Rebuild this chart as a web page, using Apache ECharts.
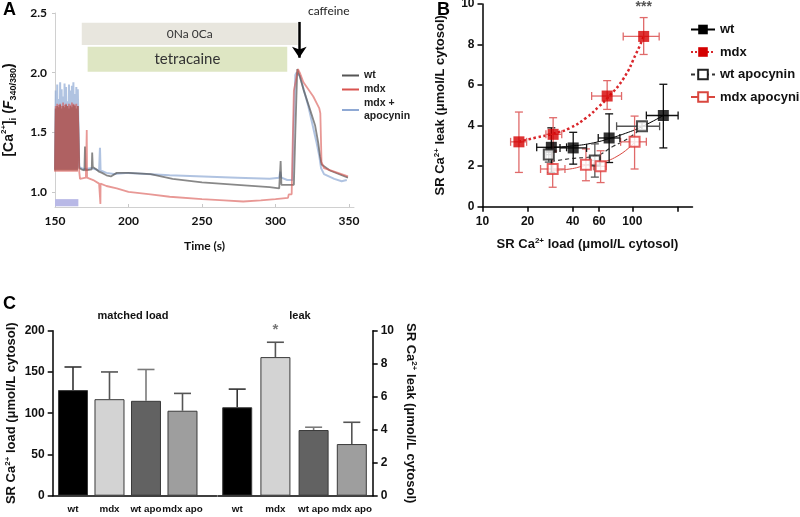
<!DOCTYPE html>
<html>
<head>
<meta charset="utf-8">
<script src="https://cdn.jsdelivr.net/npm/echarts@6/dist/echarts.min.js"></script>
<style>
  html, body { margin: 0; padding: 0; background: #fff; }
  #main { width: 800px; height: 517px; }
</style>
</head>
<body>
<div id="main"></div>
<script>
// ---------- A: Ca transients (time in s, ratio F340/380) ----------
// pacing at the start: one spike per second
var pacedTimes = [150, 151, 152, 153, 154, 155, 156, 157, 158, 159, 160, 161, 162, 163, 164, 165]
var wtPeaks = [1.70, 1.72, 1.71, 1.73, 1.70, 1.72, 1.71, 1.73, 1.72, 1.70, 1.72, 1.71, 1.73, 1.72, 1.70, 1.72]
var mdxPeaks = [1.72, 1.74, 1.73, 1.74, 1.72, 1.75, 1.73, 1.74, 1.72, 1.74, 1.73, 1.75, 1.74, 1.73, 1.74, 1.72]
var apoPeaks = [1.85, 1.90, 1.78, 1.92, 1.86, 1.80, 1.91, 1.88, 1.76, 1.90, 1.85, 1.89, 1.92, 1.82, 1.88, 1.86]
var wtBase = 1.18, mdxBase = 1.17, apoBase = 1.19

var wtTrace = [
  [166.5, 1.20], [168, 1.19], [170, 1.18], [170.4, 1.38], [170.8, 1.18], [172, 1.17], [175, 1.19],
  [175.3, 1.33], [175.7, 1.21], [178, 1.19], [180, 1.17], [182, 1.16], [185, 1.14], [188, 1.13],
  [192, 1.16], [200, 1.16], [215, 1.15], [230, 1.11], [250, 1.08], [274, 1.06], [296, 1.04],
  [302.5, 1.03], [303.5, 1.26], [304, 1.06], [312.5, 1.06], [313.5, 1.50], [314.8, 2.03],
  [316.5, 1.97], [319, 1.86], [323.5, 1.69], [326.9, 1.56], [329.1, 1.41], [330.3, 1.30],
  [331.4, 1.23], [337, 1.18], [349.3, 1.12]
]
var mdxTrace = [
  [166.5, 1.17], [167, 1.11], [168, 1.10], [171, 1.12], [171.5, 1.12], [171.6, 1.52], [171.8, 1.12],
  [173, 1.12], [176, 1.10], [180, 1.07], [180.8, 1.07], [180.9, 0.90], [181, 1.07], [185, 1.05],
  [192, 1.03], [200, 1.00], [215, 0.98], [228, 0.96], [250, 0.94], [265, 0.93], [278, 0.92],
  [290, 0.93], [300, 0.94], [308.5, 0.95], [309, 0.98], [311, 0.98], [311.5, 1.30], [312.5, 1.85],
  [315.3, 2.03], [316.5, 2.00], [319, 1.92], [325.7, 1.80], [329.8, 1.70], [330.5, 1.66],
  [331.3, 1.25], [333, 1.20], [340, 1.17], [349.3, 1.13]
]
var apoTrace = [
  [166.5, 1.21], [168, 1.20], [170, 1.19], [175, 1.20], [180, 1.18], [180.6, 1.37], [181, 1.18],
  [185, 1.16], [190, 1.15], [200, 1.16], [228, 1.14], [251, 1.13], [274, 1.12], [296, 1.11],
  [302.5, 1.12], [303.2, 1.17], [304, 1.12], [308, 1.10], [311.5, 1.10], [312.2, 1.50],
  [313.5, 1.98], [314.3, 2.00], [316.7, 1.97], [322.3, 1.72], [328, 1.41], [329.8, 1.30],
  [331, 1.20], [333, 1.15], [340, 1.11], [345, 1.09], [348.5, 1.10]
]
var aTimeTicks = [150, 200, 250, 300, 350]
var aRatioTicks = [1.0, 1.5, 2.0, 2.5]

// ---------- B: leak vs load (umol/L cytosol) ----------
var wtLoad = [28.8, 40.3, 70, 161]
var wtLeak = [2.93, 2.9, 3.39, 4.5]
var wtLoadErr = [[23, 36.4], [32.9, 49.5], [59.2, 82.6], [124, 202]]
var wtLeakErr = [[1.69, 3.89], [2.1, 3.67], [2.18, 4.58], [2.9, 6.04]]

var mdxLoad = [17.5, 29.6, 67.9, 119]
var mdxLeak = [3.2, 3.57, 5.46, 8.4]
var mdxLoadErr = [[15.4, 19.7], [26.5, 33.8], [53.5, 84.7], [86.9, 151]]
var mdxLeakErr = [[1.69, 4.67], [2.75, 4.39], [4.8, 6.22], [7.51, 9.33]]

var wtApoLoad = [27.7, 56.2, 116]
var wtApoLeak = [2.57, 2.28, 3.97]
var wtApoLoadErr = [[26.5, 29], [52.6, 61], [78.5, 152]]
var wtApoLeakErr = [[2.2, 2.9], [1.46, 3.1], [3.8, 4.15]]

var mdxApoLoad = [29.4, 49, 61.4, 103.5]
var mdxApoLeak = [1.86, 2.07, 1.99, 3.2]
var mdxApoLoadErr = [[24.4, 35.5], [45.8, 52], [55, 67], [83.5, 124]]
var mdxApoLeakErr = [[0.96, 2.7], [1.28, 2.85], [1.19, 2.76], [1.86, 4.47]]

// fitted curves
var wtFit = [[28.8, 2.93], [40.3, 3.0], [55, 3.15], [70, 3.36], [90, 3.62], [116, 3.95], [161, 4.5]]
var mdxFit = [[17.5, 3.2], [23, 3.42], [29.6, 3.6], [38.3, 3.88], [49.5, 4.4], [60, 4.95], [68, 5.35], [86.9, 6.3], [106.7, 7.6], [119, 8.4]]
var wtApoFit = [[28.8, 2.23], [38.3, 2.37], [56.2, 2.5], [74.5, 2.98], [95, 3.4], [116, 3.9]]
var mdxApoFit = [[29.4, 1.8], [38.3, 1.86], [49, 2.04], [61.4, 2.16], [82.6, 2.57], [103.5, 3.18]]
var bLoadTicks = [10, 20, 40, 60, 100, 200]
var bLoadLabels = [10, 20, 40, 60, 100]

// ---------- C: bars ----------
var cCats = ['wt', 'mdx', 'wt apo', 'mdx apo']
var loadMean = [128, 117, 115, 103]
var loadSD = [28, 33, 38, 21]
var leakMean = [5.36, 8.4, 3.98, 3.13]
var leakSD = [1.1, 0.9, 0.17, 1.32]

var barColors = ['#000000', '#d3d3d3', '#626262', '#9e9e9e']
var errColors = ['#333333', '#555555', '#7a7a7a', '#555555']

var ARIAL = 'Liberation Sans, Arial, sans-serif'
var CALIBRI = 'Lato, Open Sans, sans-serif'
var supRich = {
  sup: { fontSize: 8, verticalAlign: 'top', lineHeight: 8 },
  sub: { fontSize: 9, verticalAlign: 'bottom', lineHeight: 9 },
  it: { fontStyle: 'italic' }
}

function paced(base, peaks, rest) {
  var pts = []
  pacedTimes.forEach(function (t, i) {
    pts.push([t, base])
    pts.push([t + 0.5, peaks[i]])
  })
  return pts.concat(rest)
}

function xyErrSeries(load, leak, loadErr, leakErr, color) {
  return {
    type: 'custom', xAxisIndex: 1, yAxisIndex: 1, silent: true, z: 3,
    data: load.map(function (x, i) {
      return [x, leak[i], loadErr[i][0], loadErr[i][1], leakErr[i][0], leakErr[i][1]]
    }),
    renderItem: function (params, api) {
      var c = api.coord([api.value(0), api.value(1)])
      var xl = api.coord([api.value(2), api.value(1)])[0]
      var xh = api.coord([api.value(3), api.value(1)])[0]
      var yl = api.coord([api.value(0), api.value(4)])[1]
      var yh = api.coord([api.value(0), api.value(5)])[1]
      var cap = 4
      var st = { stroke: color, lineWidth: 1.3 }
      var seg = function (x1, y1, x2, y2) {
        return { type: 'line', shape: { x1: x1, y1: y1, x2: x2, y2: y2 }, style: st }
      }
      return {
        type: 'group',
        children: [
          seg(xl, c[1], xh, c[1]), seg(xl, c[1] - cap, xl, c[1] + cap), seg(xh, c[1] - cap, xh, c[1] + cap),
          seg(c[0], yl, c[0], yh), seg(c[0] - cap, yl, c[0] + cap, yl), seg(c[0] - cap, yh, c[0] + cap, yh)
        ]
      }
    }
  }
}

function barErrSeries(axis, mean, sd) {
  return {
    type: 'custom', xAxisIndex: axis, yAxisIndex: axis, silent: true, z: 1,
    data: mean.map(function (m, i) { return [i, m, m + sd[i]] }),
    renderItem: function (params, api) {
      var b = api.coord([api.value(0), api.value(1)])
      var t = api.coord([api.value(0), api.value(2)])
      var st = { stroke: errColors[params.dataIndex], lineWidth: 1.6 }
      return {
        type: 'group',
        children: [
          { type: 'line', shape: { x1: b[0], y1: b[1], x2: t[0], y2: t[1] }, style: st },
          { type: 'line', shape: { x1: t[0] - 8.5, y1: t[1], x2: t[0] + 8.5, y2: t[1] }, style: st }
        ]
      }
    }
  }
}

function barSeries(axis, mean, extra) {
  var s = {
    type: 'bar', xAxisIndex: axis, yAxisIndex: axis, barWidth: 30, z: 2,
    data: mean.map(function (m, i) {
      return { value: [i, m], itemStyle: { color: barColors[i], borderColor: '#3a3a3a', borderWidth: 1 } }
    })
  }
  return Object.assign(s, extra || {})
}

var boldLabel = { fontFamily: ARIAL, fontWeight: 'bold', fontSize: 12, color: '#111' }
var catLabel = {
  customValues: [0, 1, 2, 3], margin: 9, hideOverlap: false,
  fontFamily: ARIAL, fontWeight: 'bold', fontSize: 9.8, color: '#111',
  formatter: function (v) { return cCats[Math.round(v)] }
}
var blackLine = { onZero: false, lineStyle: { color: '#000', width: 1.5 } }

var myChart = echarts.init(document.getElementById('main'), null, { renderer: 'canvas' })

var option = {
  backgroundColor: '#fff',
  animation: false,
  title: [
    { text: 'matched load', left: 128, top: 305, textAlign: 'center', textStyle: { fontFamily: ARIAL, fontSize: 11, fontWeight: 'bold', color: '#111' } },
    { text: 'leak', left: 295, top: 305, textAlign: 'center', textStyle: { fontFamily: ARIAL, fontSize: 11, fontWeight: 'bold', color: '#111' } }
  ],
  graphic: [
    { type: 'text', left: 3, top: 1, style: { text: 'A', font: 'bold 18px ' + ARIAL, fill: '#000' } },
    { type: 'text', left: 437, top: 1, style: { text: 'B', font: 'bold 18px ' + ARIAL, fill: '#000' } },
    { type: 'text', left: 3, top: 295, style: { text: 'C', font: 'bold 18px ' + ARIAL, fill: '#000' } },
    { type: 'text', left: 308, top: 5, style: { text: 'caffeine', font: '12px ' + CALIBRI, fill: '#222' } }
  ],
  legend: [
    {
      data: ['wt ', 'mdx ', 'mdx +\napocynin'],
      orient: 'vertical', left: 342, top: 69, padding: 0, icon: 'rect',
      itemWidth: 17, itemHeight: 2, itemGap: 1,
      textStyle: { fontFamily: ARIAL, fontWeight: 'bold', fontSize: 10.5, color: '#222', lineHeight: 13 }
    },
    {
      data: ['wt', 'mdx', 'wt apocynin', 'mdx apocynin'],
      orient: 'vertical', left: 690, top: 23, padding: 0,
      itemWidth: 24, itemHeight: 12, itemGap: 9.5,
      textStyle: { fontFamily: ARIAL, fontWeight: 'bold', fontSize: 13, color: '#111' }
    }
  ],
  grid: [
    { left: 55, top: 13, width: 299, height: 194, outerBoundsMode: 'none' },
    { left: 482.5, top: 4, width: 210, height: 202.7, outerBoundsMode: 'none' },
    { left: 52.7, top: 330.7, width: 164, height: 165, outerBoundsMode: 'none' },
    { left: 218, top: 330.7, width: 154.7, height: 165, outerBoundsMode: 'none' }
  ],
  xAxis: [
    {
      gridIndex: 0, type: 'value', min: 150, max: 353.4,
      name: 'Time (s)', nameLocation: 'middle', nameGap: 33,
      nameTextStyle: { fontFamily: CALIBRI, fontWeight: 'bold', fontSize: 12, color: '#111' },
      axisLine: { onZero: false, lineStyle: { color: '#d0d0d0', width: 1 } },
      axisTick: { inside: true, length: 3, customValues: aTimeTicks, lineStyle: { color: '#c8c8c8' } },
      axisLabel: { customValues: aTimeTicks, margin: 8, fontFamily: CALIBRI, fontWeight: 'bold', fontSize: 12, color: '#111' },
      splitLine: { show: false }
    },
    {
      gridIndex: 1, type: 'log', logBase: 10, min: 10, max: 252,
      name: 'SR Ca{sup|2+} load (μmol/L cytosol)', nameLocation: 'middle', nameGap: 30,
      nameTextStyle: { fontFamily: ARIAL, fontWeight: 'bold', fontSize: 13, color: '#111', lineHeight: 16, rich: supRich },
      axisLine: blackLine,
      axisTick: { length: 5, customValues: bLoadTicks, lineStyle: { color: '#000', width: 1.5 } },
      axisLabel: Object.assign({ customValues: bLoadLabels, margin: 9 }, boldLabel),
      splitLine: { show: false }, minorTick: { show: false }
    },
    {
      gridIndex: 2, type: 'value', min: -0.556, max: 3.937,
      axisLine: blackLine, axisTick: { show: false }, axisLabel: catLabel,
      splitLine: { show: false }
    },
    {
      gridIndex: 3, type: 'value', min: -0.503, max: 3.547,
      axisLine: blackLine, axisTick: { show: false }, axisLabel: catLabel,
      splitLine: { show: false }
    }
  ],
  yAxis: [
    {
      gridIndex: 0, type: 'value', min: 0.874, max: 2.5,
      name: '[Ca{sup|2+}]{sub|i} ({it|F}{sub|340/380})', nameLocation: 'middle', nameRotate: 90, nameGap: 37,
      nameTextStyle: { fontFamily: ARIAL, fontWeight: 'bold', fontSize: 14, color: '#111', lineHeight: 18, rich: supRich },
      axisLine: { show: true, onZero: false, lineStyle: { color: '#d0d0d0', width: 1 } },
      axisTick: { show: true, length: 3, customValues: aRatioTicks, lineStyle: { color: '#c8c8c8' } },
      axisLabel: {
        customValues: aRatioTicks, margin: 8, fontFamily: CALIBRI, fontWeight: 'bold', fontSize: 12, color: '#111',
        formatter: function (v) { return v.toFixed(1) }
      },
      splitLine: { show: false }
    },
    {
      gridIndex: 1, type: 'value', min: 0, max: 10, interval: 2,
      name: 'SR Ca{sup|2+} leak (μmol/L cytosol)', nameLocation: 'middle', nameRotate: 90, nameGap: 34,
      nameTextStyle: { fontFamily: ARIAL, fontWeight: 'bold', fontSize: 13, color: '#111', lineHeight: 16, rich: supRich },
      axisLine: { show: true, onZero: false, lineStyle: { color: '#000', width: 1.5 } },
      axisTick: { show: true, length: 5, lineStyle: { color: '#000', width: 1.5 } },
      axisLabel: Object.assign({ margin: 8 }, boldLabel),
      splitLine: { show: false }
    },
    {
      gridIndex: 2, type: 'value', min: 0, max: 200, interval: 50,
      name: 'SR Ca{sup|2+} load (μmol/L cytosol)', nameLocation: 'middle', nameRotate: 90, nameGap: 33,
      nameTextStyle: { fontFamily: ARIAL, fontWeight: 'bold', fontSize: 13, color: '#111', lineHeight: 16, rich: supRich },
      axisLine: { show: true, onZero: false, lineStyle: { color: '#000', width: 1.5 } },
      axisTick: { show: true, length: 5, lineStyle: { color: '#000', width: 1.5 } },
      axisLabel: Object.assign({ margin: 8 }, boldLabel),
      splitLine: { show: false }
    },
    {
      gridIndex: 3, type: 'value', position: 'right', min: 0, max: 10, interval: 2,
      name: 'SR Ca{sup|2+} leak (μmol/L cytosol)', nameLocation: 'middle', nameRotate: -90, nameGap: 30,
      nameTextStyle: { fontFamily: ARIAL, fontWeight: 'bold', fontSize: 13, color: '#111', lineHeight: 16, rich: supRich },
      axisLine: { show: true, onZero: false, lineStyle: { color: '#000', width: 1.5 } },
      axisTick: { show: true, length: 5, lineStyle: { color: '#000', width: 1.5 } },
      axisLabel: Object.assign({ margin: 8 }, boldLabel),
      splitLine: { show: false }
    }
  ],
  series: [
    // ---- A ----
    {
      name: 'mdx +\napocynin', type: 'line', xAxisIndex: 0, yAxisIndex: 0, symbol: 'none',
      data: paced(apoBase, apoPeaks, apoTrace), color: '#8fa9d4',
      lineStyle: { width: 2, opacity: 0.7 },
      markArea: {
        silent: true,
        data: [
          [{ name: '0Na 0Ca', xAxis: 168.2, yAxis: 2.419, itemStyle: { color: '#e8e6de' },
             label: { show: true, position: 'inside', color: '#333', fontFamily: CALIBRI, fontSize: 12 } },
           { xAxis: 315.1, yAxis: 2.232 }],
          [{ name: 'tetracaine', xAxis: 172.2, yAxis: 2.218, itemStyle: { color: '#dee6c3' },
             label: { show: true, position: 'inside', color: '#333', fontFamily: CALIBRI, fontSize: 15 } },
           { xAxis: 308, yAxis: 2.008 }],
          [{ xAxis: 150, yAxis: 0.94, itemStyle: { color: '#b8b8e6' }, label: { show: false } },
           { xAxis: 165.9, yAxis: 0.88 }]
        ]
      },
      markLine: {
        silent: true, symbol: ['none', 'arrow'], symbolSize: 11,
        lineStyle: { color: '#000', width: 2.5, type: 'solid' }, label: { show: false },
        data: [[{ coord: [316.2, 2.425] }, { coord: [316.2, 2.125] }]]
      }
    },
    {
      name: 'wt ', type: 'line', xAxisIndex: 0, yAxisIndex: 0, symbol: 'none',
      data: paced(wtBase, wtPeaks, wtTrace), color: '#555555',
      lineStyle: { width: 1.8, opacity: 0.7 }
    },
    {
      name: 'mdx ', type: 'line', xAxisIndex: 0, yAxisIndex: 0, symbol: 'none',
      data: paced(mdxBase, mdxPeaks, mdxTrace), color: '#d9534f',
      lineStyle: { width: 1.8, opacity: 0.6 }
    },

    // ---- B: fits (these carry the legend) ----
    {
      name: 'wt', type: 'line', xAxisIndex: 1, yAxisIndex: 1, smooth: true, data: wtFit,
      symbol: 'rect', symbolSize: 10, showSymbol: false, color: '#000',
      lineStyle: { width: 1, color: '#000' }, z: 2
    },
    {
      name: 'mdx', type: 'line', xAxisIndex: 1, yAxisIndex: 1, smooth: true, data: mdxFit,
      symbol: 'rect', symbolSize: 10, showSymbol: false, color: '#d40000',
      lineStyle: { width: 2.5, type: 'dotted', color: '#d9262b' }, z: 2
    },
    {
      name: 'wt apocynin', type: 'line', xAxisIndex: 1, yAxisIndex: 1, smooth: true, data: wtApoFit,
      symbol: 'emptyRect', symbolSize: 10, showSymbol: false, color: '#222',
      lineStyle: { width: 1.2, type: [4, 3], color: '#333' }, z: 2
    },
    {
      name: 'mdx apocynin', type: 'line', xAxisIndex: 1, yAxisIndex: 1, smooth: true, data: mdxApoFit,
      symbol: 'emptyRect', symbolSize: 10, showSymbol: false, color: '#d9473f',
      lineStyle: { width: 1, color: '#d9473f' }, z: 2
    },
    // ---- B: error bars ----
    xyErrSeries(mdxApoLoad, mdxApoLeak, mdxApoLoadErr, mdxApoLeakErr, '#e06a6a'),
    xyErrSeries(wtApoLoad, wtApoLeak, wtApoLoadErr, wtApoLeakErr, '#555'),
    xyErrSeries(wtLoad, wtLeak, wtLoadErr, wtLeakErr, '#111'),
    xyErrSeries(mdxLoad, mdxLeak, mdxLoadErr, mdxLeakErr, '#e06a6a'),
    // ---- B: points ----
    {
      name: 'wt pts', type: 'scatter', xAxisIndex: 1, yAxisIndex: 1, symbol: 'rect', symbolSize: 11, z: 5,
      data: wtLoad.map(function (x, i) { return [x, wtLeak[i]] }), itemStyle: { color: '#000' }
    },
    {
      name: 'mdx pts', type: 'scatter', xAxisIndex: 1, yAxisIndex: 1, symbol: 'rect', symbolSize: 11, z: 5,
      data: mdxLoad.map(function (x, i) { return [x, mdxLeak[i]] }), itemStyle: { color: '#d40000' },
      markPoint: {
        silent: true, symbol: 'rect', symbolSize: 1, itemStyle: { color: 'rgba(0,0,0,0)' },
        label: { show: true, position: 'top', distance: 3, formatter: '***', color: '#555', fontFamily: ARIAL, fontWeight: 'bold', fontSize: 14 },
        data: [{ coord: [mdxLoad[3], mdxLeakErr[3][1]] }]
      }
    },
    {
      name: 'wt apo pts', type: 'scatter', xAxisIndex: 1, yAxisIndex: 1, symbol: 'emptyRect', symbolSize: 10, z: 5,
      data: wtApoLoad.map(function (x, i) { return [x, wtApoLeak[i]] }), itemStyle: { color: '#222', borderWidth: 1.5 }
    },
    {
      name: 'mdx apo pts', type: 'scatter', xAxisIndex: 1, yAxisIndex: 1, symbol: 'emptyRect', symbolSize: 10, z: 5,
      data: mdxApoLoad.map(function (x, i) { return [x, mdxApoLeak[i]] }), itemStyle: { color: '#e03a3a', borderWidth: 1.5 }
    },

    // ---- C ----
    barErrSeries(2, loadMean, loadSD),
    barSeries(2, loadMean),
    barErrSeries(3, leakMean, leakSD),
    barSeries(3, leakMean, {
      markPoint: {
        silent: true, symbol: 'rect', symbolSize: 1, itemStyle: { color: 'rgba(0,0,0,0)' },
        label: { show: true, position: 'top', distance: 4, formatter: '*', color: '#777', fontFamily: ARIAL, fontWeight: 'bold', fontSize: 15 },
        data: [{ coord: [1, leakMean[1] + leakSD[1]] }]
      }
    })
  ]
}

myChart.setOption(option)
</script>
</body>
</html>
